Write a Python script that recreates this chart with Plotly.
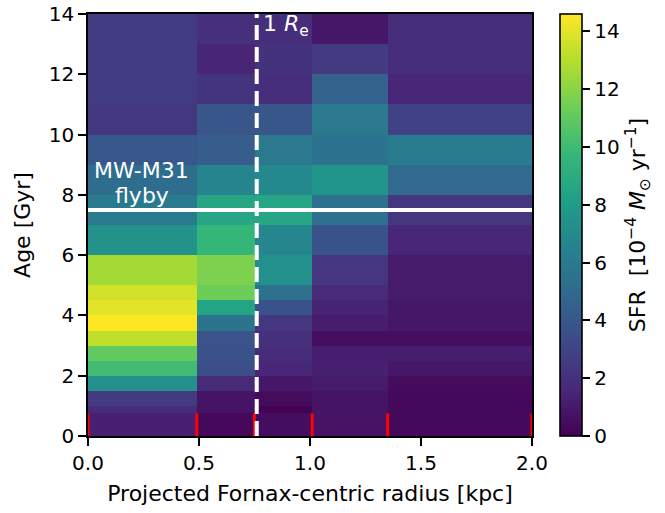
import plotly.graph_objects as go

# Radial bin edges [kpc] and age bin edges [Gyr]
radius_edges = [0.0, 0.49, 0.75, 1.01, 1.35, 2.0]
age_edges = [0.0, 0.75, 1.0, 1.5, 2.0, 2.5, 3.0, 3.5, 4.0, 4.5, 5.0,
             6.0, 7.0, 8.0, 9.0, 10.0, 11.0, 12.0, 13.0, 14.0]

# SFR per radial bin, youngest age bin first [1e-4 Msun/yr]
sfr_bin1 = [1.3, 1.8, 2.5, 7.3, 10.1, 11.0, 13.2, 14.6, 14.0, 13.6,
            12.6, 7.4, 6.0, 5.2, 4.0, 2.4, 2.6, 2.6, 2.6]
sfr_bin2 = [0.3, 0.8, 0.8, 1.7, 3.5, 3.7, 3.8, 5.6, 8.5, 11.3,
            11.7, 9.7, 8.6, 6.6, 4.3, 3.9, 2.2, 1.5, 2.0]
sfr_bin3 = [0.5, 0.05, 0.4, 0.9, 1.6, 1.8, 2.0, 2.3, 3.7, 5.4,
            7.3, 6.8, 8.6, 6.9, 5.9, 3.9, 1.9, 2.1, 1.9]
sfr_bin4 = [0.75, 0.75, 0.8, 1.1, 1.3, 1.2, 0.6, 1.2, 1.4, 1.7,
            2.3, 3.7, 5.4, 7.6, 5.5, 5.9, 4.6, 2.5, 0.9]
sfr_bin5 = [0.35, 0.35, 0.35, 0.4, 0.9, 1.2, 0.6, 0.9, 0.9, 1.1,
            1.1, 1.6, 2.3, 5.0, 6.1, 2.9, 1.6, 1.9, 1.9]

r_eff = 0.76        # effective radius [kpc]
flyby_age = 7.5     # MW-M31 flyby [Gyr ago]
sfr_max = 14.6

x_ticks = [0.0, 0.5, 1.0, 1.5, 2.0]
x_ticktext = ["0.0", "0.5", "1.0", "1.5", "2.0"]
y_ticks = [0, 2, 4, 6, 8, 10, 12, 14]
cb_ticks = [0, 2, 4, 6, 8, 10, 12, 14]

columns = [sfr_bin1, sfr_bin2, sfr_bin3, sfr_bin4, sfr_bin5]
z = [[col[i] for col in columns] for i in range(len(age_edges) - 1)]

FONT = "DejaVu Sans"
fs_tick = 20
fs_label = 22

fig = go.Figure()
fig.add_trace(go.Heatmap(
    x=radius_edges, y=age_edges, z=z,
    colorscale="Viridis", zmin=0, zmax=sfr_max, zsmooth=False,
    hoverinfo="skip",
    colorbar=dict(
        x=1.063, xanchor="left", y=0, yanchor="bottom", len=1, lenmode="fraction",
        ypad=0, xpad=0,
        thickness=22, outlinecolor="black", outlinewidth=1.6,
        tickvals=cb_ticks, ticks="outside", ticklen=8, tickwidth=1.6,
        tickcolor="black", tickfont=dict(family=FONT, size=fs_tick, color="black"),
        title=dict(text="SFR  [10<sup>−4</sup> <i>M</i><sub>⊙</sub> yr<sup>−1</sup>]",
                   side="right", font=dict(family=FONT, size=fs_label, color="black")),
    ),
))

# red markers at radial bin edges
tick_h = 0.75
xs, ys = [], []
for e in radius_edges:
    xs += [e, e, None]
    ys += [0, tick_h, None]
fig.add_trace(go.Scatter(x=xs, y=ys, mode="lines", line=dict(color="red", width=3),
                         hoverinfo="skip", showlegend=False))

# flyby line and effective radius line
fig.add_shape(type="line", xref="x", yref="y", x0=radius_edges[0], x1=radius_edges[-1],
              y0=flyby_age, y1=flyby_age, line=dict(color="white", width=4))
fig.add_shape(type="line", xref="x", yref="y", x0=r_eff, x1=r_eff,
              y0=age_edges[0], y1=age_edges[-1],
              line=dict(color="white", width=4, dash="15px,7px"))

fig.add_annotation(x=r_eff + 0.02, y=13.63, xref="x", yref="y", xanchor="left",
                   yanchor="middle", showarrow=False,
                   text="1 <i>R</i><sub>e</sub>",
                   font=dict(family=FONT, size=22, color="white"))
fig.add_annotation(x=0.242, y=8.8, xref="x", yref="y", xanchor="center",
                   yanchor="middle", showarrow=False, text="MW-M31",
                   font=dict(family=FONT, size=22, color="white"))
fig.add_annotation(x=0.242, y=7.98, xref="x", yref="y", xanchor="center",
                   yanchor="middle", showarrow=False, text="flyby",
                   font=dict(family=FONT, size=22, color="white"))

axis_common = dict(showline=True, linecolor="black", linewidth=1.6, mirror=True,
                   ticks="outside", ticklen=8, tickwidth=1.6, tickcolor="black",
                   showgrid=False, zeroline=False,
                   tickfont=dict(family=FONT, size=fs_tick, color="black"))

fig.update_layout(
    width=665, height=513,
    margin=dict(l=88, r=133, t=14, b=77, autoexpand=False),
    paper_bgcolor="white", plot_bgcolor="white",
    showlegend=False,
    xaxis=dict(range=[0, 2.0], tickvals=x_ticks, ticktext=x_ticktext,
               title=dict(text="Projected Fornax-centric radius [kpc]",
                          font=dict(family=FONT, size=fs_label, color="black"), standoff=12),
               **axis_common),
    yaxis=dict(range=[0, 14], tickvals=y_ticks,
               title=dict(text="Age [Gyr]", font=dict(family=FONT, size=fs_label, color="black"),
                          standoff=12),
               **axis_common),
)

fig.write_html("out.html")
